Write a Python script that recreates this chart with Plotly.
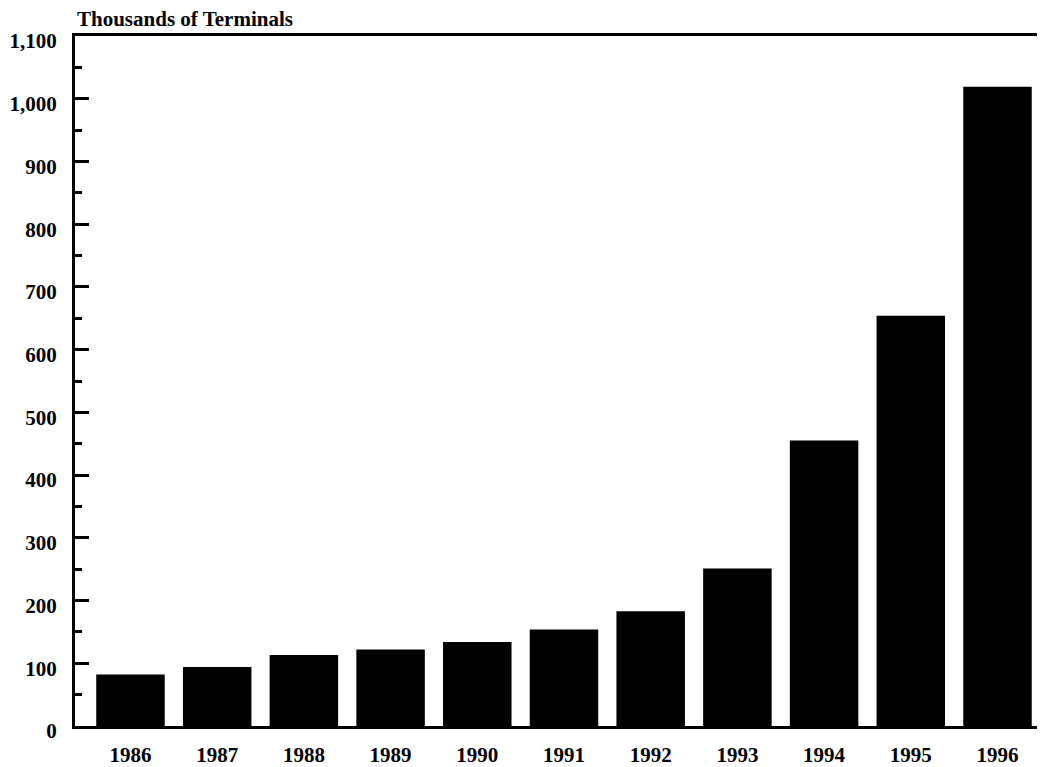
import plotly.graph_objects as go

years = ["1986", "1987", "1988", "1989", "1990", "1991", "1992", "1993", "1994", "1995", "1996"]
terminals = [82, 94, 113, 122, 134, 154, 183, 251, 455, 654, 1019]
y_tick_vals = [0, 100, 200, 300, 400, 500, 600, 700, 800, 900, 1000, 1100]
y_tick_text = ["0", "100", "200", "300", "400", "500", "600", "700", "800", "900", "1,000", "1,100"]

FONT = "Liberation Serif"
FS = 21
# the page body adds an 8px offset; figure drawn at (8, 8)
OFF = 8
W, H = 1045, 767
ML, MR, MT, MB = 74.5 - OFF, OFF, 35.5 - OFF, 767 - 726 + OFF
PW = W - ML - MR
PH = H - MT - MB

fig = go.Figure()
fig.add_trace(go.Bar(
    x=list(range(len(years))),
    y=terminals,
    marker=dict(color="black", line=dict(width=0)),
    width=0.79,
))

fig.update_layout(
    width=W, height=H,
    margin=dict(l=ML, r=MR, t=MT, b=MB, autoexpand=False),
    paper_bgcolor="white", plot_bgcolor="white",
    showlegend=False,
    font=dict(family=FONT, size=FS, color="black"),
    xaxis=dict(
        range=[-0.64, 10.548],
        tickmode="array",
        tickvals=list(range(len(years))),
        ticktext=["<b>%s</b>" % y for y in years],
        showline=True, linecolor="black", linewidth=3, mirror=True,
        ticks="", showgrid=False, zeroline=False,
        automargin=False,
        ticklabelstandoff=8,
        tickfont=dict(family=FONT, size=FS, color="black"),
    ),
    yaxis=dict(
        range=[0, 1100],
        tickmode="array",
        tickvals=y_tick_vals,
        ticktext=["<b>%s</b>" % t for t in y_tick_text],
        showline=True, linecolor="black", linewidth=3,
        ticks="inside", ticklen=14, tickwidth=3, tickcolor="black",
        minor=dict(ticks="inside", ticklen=7, tickwidth=3, tickcolor="black", dtick=50, showgrid=False),
        showgrid=False, zeroline=False,
        automargin=False,
        ticklabelstandoff=11,
        ticklabelshift=5,
        tickfont=dict(family=FONT, size=FS, color="black"),
    ),
    annotations=[dict(
        text="<b>Thousands of Terminals</b>",
        xref="paper", yref="paper",
        x=(75 - 74.5) / PW, y=1 + (35.5 - 18) / PH,
        xanchor="left", yanchor="middle", showarrow=False,
        font=dict(family=FONT, size=FS, color="black"),
    )],
)

fig.write_html("out.html")
